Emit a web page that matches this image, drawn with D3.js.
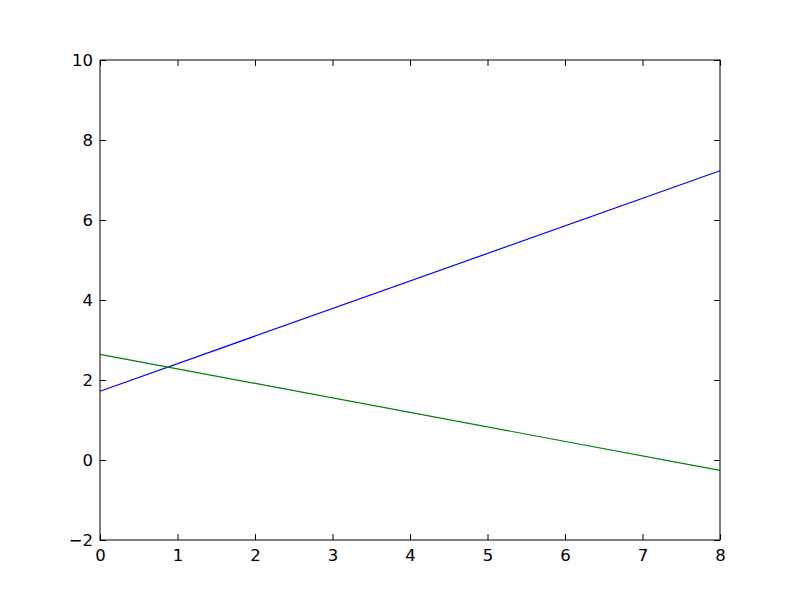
<!DOCTYPE html>
<html>
<head>
<meta charset="utf-8">
<script src="https://cdn.jsdelivr.net/npm/d3@7"></script>
<style>
  body { margin: 0; background: #fff; }
  text { font-family: "DejaVu Sans", sans-serif; }
</style>
</head>
<body>
<div id="chart"></div>
<script>
// line end points
var xs = [0, 8];
var blueY = [1.72, 7.23];
var greenY = [2.64, -0.26];
var xTicks = [0, 1, 2, 3, 4, 5, 6, 7, 8];
var yTicks = [-2, 0, 2, 4, 6, 8, 10];

var margin = {top: 60, right: 80, bottom: 60, left: 100};
var width = 800 - margin.left - margin.right;
var height = 600 - margin.top - margin.bottom;

var svg = d3.select("#chart")
  .append("svg")
  .attr("width", 800)
  .attr("height", 600);

var g = svg.append("g")
  .attr("transform", "translate(" + margin.left + "," + margin.top + ")");

var x = d3.scaleLinear().domain([0, 8]).range([0, width]);
var y = d3.scaleLinear().domain([-2, 10]).range([height, 0]);

var fmt = function(d) { return d < 0 ? "\u2212" + Math.abs(d) : String(d); };
var tickLen = 6;

// lines
var line = d3.line()
  .x(function(d) { return x(d[0]); })
  .y(function(d) { return y(d[1]); });

g.append("path")
  .datum(xs.map(function(v, i) { return [v, blueY[i]]; }))
  .attr("d", line)
  .attr("fill", "none")
  .attr("stroke", "#0000ff")
  .attr("stroke-width", 1.2);

g.append("path")
  .datum(xs.map(function(v, i) { return [v, greenY[i]]; }))
  .attr("d", line)
  .attr("fill", "none")
  .attr("stroke", "#008000")
  .attr("stroke-width", 1.2);

// axes, ticks inward on all sides
var axBottom = g.append("g")
  .attr("transform", "translate(0," + height + ")")
  .call(d3.axisBottom(x).tickValues(xTicks).tickFormat(fmt).tickSizeInner(-tickLen).tickSizeOuter(0).tickPadding(9));
var axTop = g.append("g")
  .call(d3.axisTop(x).tickValues(xTicks).tickFormat("").tickSizeInner(-tickLen).tickSizeOuter(0));
var axLeft = g.append("g")
  .call(d3.axisLeft(y).tickValues(yTicks).tickFormat(fmt).tickSizeInner(-tickLen).tickSizeOuter(0).tickPadding(7));
var axRight = g.append("g")
  .attr("transform", "translate(" + width + ",0)")
  .call(d3.axisRight(y).tickValues(yTicks).tickFormat("").tickSizeInner(-tickLen).tickSizeOuter(0));

[axBottom, axTop, axLeft, axRight].forEach(function(a) {
  a.select(".domain").remove();
  a.selectAll("line").attr("stroke", "#000");
  a.selectAll("text").attr("fill", "#000").attr("font-size", "16.5px").attr("font-family", "DejaVu Sans, sans-serif");
});

// frame
g.append("rect")
  .attr("width", width)
  .attr("height", height)
  .attr("fill", "none")
  .attr("stroke", "#000")
  .attr("stroke-width", 1);
</script>
</body>
</html>
